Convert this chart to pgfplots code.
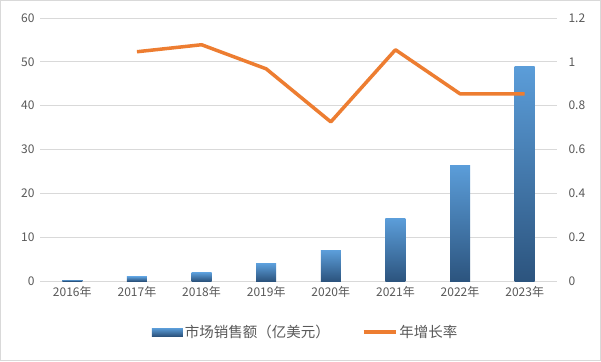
\documentclass[border=0pt]{standalone}
\usepackage{pgfplots}
\pgfplotsset{compat=1.18}
\usepackage{fontspec}
\setmainfont{Noto Sans CJK SC}
\definecolor{tickgray}{RGB}{89,89,89}
\definecolor{gridgray}{RGB}{217,217,217}
\definecolor{bartop}{RGB}{91,157,217}
\definecolor{barbot}{RGB}{44,84,126}
\definecolor{lineor}{RGB}{237,125,49}
\pgfplotsset{mybar/.style={ybar, bar width=20pt, bar shift=0pt, draw=none, top color=bartop, bottom color=barbot}}
\begin{document}
\begin{tikzpicture}[x=1pt,y=1pt]
\draw[draw=gridgray, line width=1pt, fill=white] (0.5,0.5) rectangle (600.5,360.5);
\begin{axis}[
  at={(40pt,80pt)}, anchor=south west, scale only axis,
  width=517pt, height=263pt,
  xmin=-0.5, xmax=7.5, ymin=0, ymax=60,
  xtick={0,...,7},
  xticklabels={2016年,2017年,2018年,2019年,2020年,2021年,2022年,2023年},
  ytick={0,10,...,60},
  axis x line*=bottom, axis y line*=left,
  x axis line style={draw=gridgray, line width=0.8pt, -},
  y axis line style={draw=none},
  major tick length=0pt,
  ymajorgrids, grid style={draw=gridgray, line width=0.8pt},
  tick label style={font=\fontsize{12}{14}\selectfont, text=tickgray},
  /pgf/number format/assume math mode=true,
  xticklabel style={yshift=-2pt},
  yticklabel style={xshift=-2pt},
]
\addplot[mybar] coordinates {(0,0.3)};
\addplot[mybar] coordinates {(1,1.0)};
\addplot[mybar] coordinates {(2,1.9)};
\addplot[mybar] coordinates {(3,3.9)};
\addplot[mybar] coordinates {(4,6.9)};
\addplot[mybar] coordinates {(5,14.2)};
\addplot[mybar] coordinates {(6,26.3)};
\addplot[mybar] coordinates {(7,48.9)};
\end{axis}
\begin{axis}[
  at={(40pt,80pt)}, anchor=south west, scale only axis,
  width=517pt, height=263pt,
  xmin=-0.5, xmax=7.5, ymin=0, ymax=1.2,
  ytick={0,0.2,...,1.2},
  axis y line*=right, axis x line=none,
  y axis line style={draw=none},
  major tick length=0pt,
  tick label style={font=\fontsize{12}{14}\selectfont, text=tickgray},
  /pgf/number format/assume math mode=true,
  yticklabel style={xshift=8pt},
  legend columns=2,
  legend style={at={(0.514,-0.194)}, anchor=center, draw=none, fill=none,
    font=\fontsize{14.5}{16}\selectfont, text=tickgray,
    /tikz/every even column/.append style={column sep=30pt}},
]
\addlegendimage{draw=none, legend image code/.code={\path[draw=none, top color=bartop, bottom color=barbot] (0pt,-4pt) rectangle (31pt,4pt);}}
\addlegendentry{市场销售额（亿美元）}
\addplot[color=lineor, line width=3.5pt, line join=round, legend image code/.code={\draw[color=lineor, line width=3.5pt] (0pt,0pt) -- (32pt,0pt);}]
 coordinates {(1,1.046) (2,1.078) (3,0.968) (4,0.726) (5,1.055) (6,0.854) (7,0.854)};
\addlegendentry{年增长率}
\end{axis}
\end{tikzpicture}
\end{document}
